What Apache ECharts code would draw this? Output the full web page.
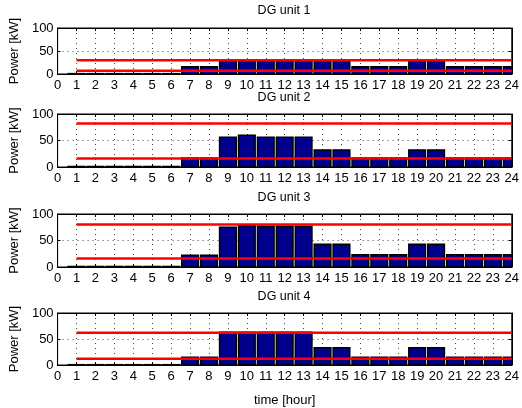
<!DOCTYPE html>
<html>
<head>
<meta charset="utf-8">
<script src="https://cdn.jsdelivr.net/npm/echarts@6/dist/echarts.min.js"></script>
<style>html,body{margin:0;padding:0;background:#fff}#c{width:522px;height:408px}</style>
</head>
<body>
<div id="c"></div>
<script>
const hours = [1,2,3,4,5,6,7,8,9,10,11,12,13,14,15,16,17,18,19,20,21,22,23,24];
const xTickLabels = ['0','1','2','3','4','5','6','7','8','9','10','11','12','13','14','15','16','17','18','19','20','21','22','23','24'];
const yTickLabels = ['0','50','100'];
const titles = ['DG unit 1','DG unit 2','DG unit 3','DG unit 4'];
const unit1 = [0.8,0.8,0.8,0.8,0.8,0.8,16,16,30,30,30,30,30,30,30,16,16,16,30,30,16,16,16,16];
const unit2 = [1,1,1,1,1,1,17,17,56,60,56,56,56,32,32,17,17,17,32,32,17,17,17,17];
const unit3 = [1,1,1,1,1,1,22,22,75,78,77,77,77,43,43,23,23,23,43,43,23,23,23,23];
const unit4 = [0.6,0.6,0.6,0.6,0.6,0.6,15,15,63,63,63,63,63,33,33,15,15,15,33,33,15,15,15,15];
const minLimits = [7,16,16,12];
const maxLimits = [30,82,80,62];

const units = [unit1, unit2, unit3, unit4];
const FONT = 'Liberation Sans, Arial, Helvetica, sans-serif';
const gridTops = [28, 114, 214, 313];
const gridHeights = [46, 53, 53, 53];
const titleTops = [4, 91, 191, 290];
const BW = 0.88;

const chart = echarts.init(document.getElementById('c'), null, {renderer:'canvas'});

function renderBar(params, api) {
  const x = api.value(0), y = api.value(1);
  const p1 = api.coord([x - BW/2, y]);
  const p2 = api.coord([x + BW/2, 0]);
  const cs = params.coordSys;
  const shape = echarts.graphic.clipRectByRect(
    {x:p1[0], y:p1[1], width:p2[0]-p1[0], height:p2[1]-p1[1]},
    {x:cs.x, y:cs.y, width:cs.width, height:cs.height});
  return shape && {type:'rect', shape: shape, style:{fill:'#00008c', stroke:'#000', lineWidth:1.5}};
}

const grid = [], xAxis = [], yAxis = [], series = [], title = [];
for (let i = 0; i < 4; i++) {
  grid.push({left:57, right:10, top:gridTops[i], height:gridHeights[i], show:true, borderColor:'#000', borderWidth:1, containLabel:false});
  title.push({text:titles[i], left:284, top:titleTops[i], textAlign:'center', padding:0,
    textStyle:{fontFamily:FONT, fontSize:12.5, fontWeight:'normal', color:'#000'}});
  xAxis.push({type:'value', gridIndex:i, min:0, max:24, interval:1, position:'bottom',
    axisLine:{show:true, onZero:false, lineStyle:{color:'#000', width:1}},
    axisTick:{show:true, inside:true, length:3, lineStyle:{color:'#000'}},
    axisLabel:{show:true, margin:5, color:'#000', fontFamily:FONT, fontSize:13, formatter:v => xTickLabels[v]},
    splitLine:{show:true, lineStyle:{color:'#444', width:1, type:[1,4]}},
    name: i === 3 ? 'time [hour]' : '', nameLocation:'middle', nameGap:29,
    nameTextStyle:{fontFamily:FONT, fontSize:13, color:'#000'}});
  xAxis.push({type:'value', gridIndex:i, min:0, max:24, interval:1, position:'top',
    axisLine:{show:true, onZero:false, lineStyle:{color:'#000', width:1}},
    axisTick:{show:true, inside:true, length:3, lineStyle:{color:'#000'}},
    axisLabel:{show:false}, splitLine:{show:false}});
  yAxis.push({type:'value', gridIndex:i, min:0, max:100, interval:50, position:'left',
    axisLine:{show:true, onZero:false, lineStyle:{color:'#000', width:1}},
    axisTick:{show:true, inside:true, length:3, lineStyle:{color:'#000'}},
    axisLabel:{show:true, margin:4, color:'#000', fontFamily:FONT, fontSize:13, formatter:v => yTickLabels[v/50]},
    splitLine:{show:true, lineStyle:{color:'#444', width:1, type:[1,4]}},
    name:'Power [kW]', nameLocation:'middle', nameGap:33, nameRotate:90,
    nameTextStyle:{fontFamily:FONT, fontSize:13, color:'#000'}});
  yAxis.push({type:'value', gridIndex:i, min:0, max:100, interval:50, position:'right',
    axisLine:{show:true, onZero:false, lineStyle:{color:'#000', width:1}},
    axisTick:{show:true, inside:true, length:3, lineStyle:{color:'#000'}},
    axisLabel:{show:false}, splitLine:{show:false}});
  series.push({type:'custom', xAxisIndex:2*i, yAxisIndex:2*i, renderItem:renderBar, clip:true, z:2,
    data: hours.map((h, k) => [h, units[i][k]])});
  series.push({type:'line', xAxisIndex:2*i, yAxisIndex:2*i, showSymbol:false, symbol:'none', z:5,
    lineStyle:{color:'#ff0000', width:2.5}, data:[[hours[0], minLimits[i]],[hours[23], minLimits[i]]]});
  series.push({type:'line', xAxisIndex:2*i, yAxisIndex:2*i, showSymbol:false, symbol:'none', z:5,
    lineStyle:{color:'#ff0000', width:2.5}, data:[[hours[0], maxLimits[i]],[hours[23], maxLimits[i]]]});
}

chart.setOption({animation:false, backgroundColor:'#fff', title, grid, xAxis, yAxis, series});
</script>
</body>
</html>
